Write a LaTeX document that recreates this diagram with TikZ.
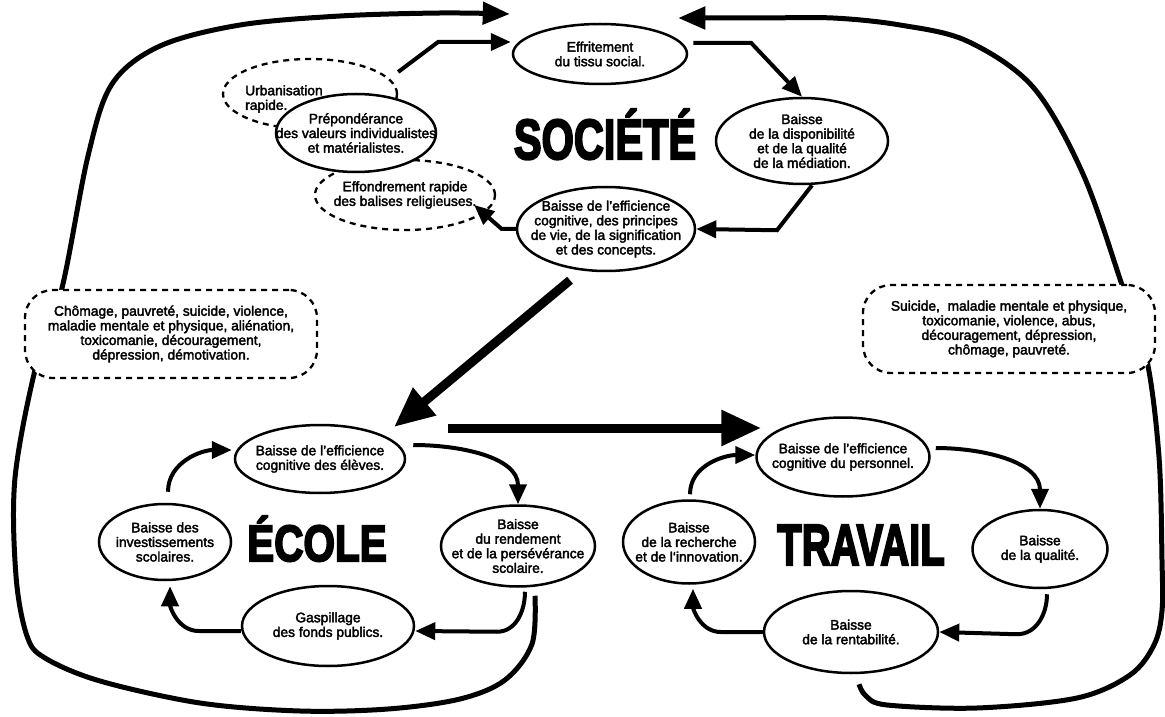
\documentclass[tikz,border=0pt]{standalone}
\usepackage{fontspec}
\usepackage{graphicx}
\setmainfont{Liberation Sans}
\newfontfamily\textefont{Liberation Sans}[FakeBold=2.5]
\newfontfamily\titrefont{Liberation Sans}[FakeBold=4]
\usetikzlibrary{shapes.geometric,arrows.meta,calc}
\newcommand{\corps}{\textefont\fontsize{13.8pt}{14.6pt}\selectfont}
\newcommand{\grandmot}[3]{\scalebox{#1}[#2]{\fontsize{10pt}{12pt}\titrefont\bfseries #3}}
\tikzset{
  bulle/.style={ellipse, draw, line width=2.5pt, fill=white, inner sep=0pt},
  tirets/.style={ellipse, draw, line width=2.3pt, dash pattern=on 6pt off 5pt, fill=white, inner sep=0pt},
  boite/.style={rectangle, rounded corners=28pt, draw, line width=2.3pt, dash pattern=on 6pt off 5pt,
    fill=white, minimum width=292pt, minimum height=88pt, align=center, font=\corps},
  txt/.style={align=center, font=\corps, inner sep=0pt},
  fleche/.style={line width=4pt, -{Triangle[length=20pt,width=17pt]}},
  boucle/.style={line width=5pt, -{Triangle[length=27pt,width=22pt]}},
  grosse/.style={line width=9pt, -{Triangle[length=40pt,width=34pt]}},
  titre/.style={inner sep=0pt, anchor=base}
}
\begin{document}
\begin{tikzpicture}[x=1pt,y=1pt]
   \useasboundingbox (0,0) rectangle (1165,716);
   % titres
   \node[titre] (soc) at (605,557) {\grandmot{4.15}{5.65}{SOCIÉTÉ}};
   \node[titre] (eco) at (317,155) {\grandmot{4.05}{5.1}{ÉCOLE}};
   \node[titre] (trav) at (861,151) {\grandmot{4.0}{5.8}{TRAVAIL}};
   % société
   \node[tirets, minimum width=174pt, minimum height=70pt] (urb) at (310,622) {};
   \node[txt, anchor=west, align=left] (urbt) at (245,617) {Urbanisation\\rapide.};
   \node[tirets, minimum width=180pt, minimum height=70pt,
     label={[txt]center:{Effondrement rapide\\des balises religieuses.}}] (effond) at (405,521) {};
   \node[bulle, minimum width=160pt, minimum height=78pt,
     label={[txt]center:{Prépondérance\\des valeurs individualistes\\et matérialistes.}}] (prep) at (356,583) {};
   \node[bulle, minimum width=174pt, minimum height=60pt,
     label={[txt]center:{Effritement\\du tissu social.}}] (eff) at (600,662) {};
   \node[bulle, minimum width=172pt, minimum height=86pt,
     label={[txt]center:{Baisse\\de la disponibilité\\et de la qualité\\de la médiation.}}] (dispo) at (802,575) {};
   \node[bulle, minimum width=178pt, minimum height=84pt,
     label={[txt]center:{Baisse de l’efficience\\cognitive, des principes\\de vie, de la signification\\et des concepts.}}] (effsoc) at (606,487) {};
   % école
   \node[bulle, minimum width=170pt, minimum height=68pt,
     label={[txt]center:{Baisse de l’efficience\\cognitive des élèves.}}] (eleves) at (320,257) {};
   \node[bulle, minimum width=154pt, minimum height=81pt,
     label={[txt]center:{Baisse\\du rendement\\et de la persévérance\\scolaire.}}] (rend) at (518,170) {};
   \node[bulle, minimum width=172pt, minimum height=80pt,
     label={[txt]center:{Gaspillage\\des fonds publics.}}] (gasp) at (328,90) {};
   \node[bulle, minimum width=132pt, minimum height=76pt,
     label={[txt]center:{Baisse des\\investissements\\scolaires.}}] (invest) at (165,174) {};
   % travail
   \node[bulle, minimum width=173pt, minimum height=79pt,
     label={[txt]center:{Baisse de l’efficience\\cognitive du personnel.}}] (pers) at (843,259) {};
   \node[bulle, minimum width=135pt, minimum height=78pt,
     label={[txt]center:{Baisse\\de la qualité.}}] (qual) at (1040,167) {};
   \node[bulle, minimum width=174pt, minimum height=82pt,
     label={[txt]center:{Baisse\\de la rentabilité.}}] (rent) at (851,84) {};
   \node[bulle, minimum width=132pt, minimum height=83pt,
     label={[txt]center:{Baisse\\de la recherche\\et de l‘innovation.}}] (rech) at (689,174) {};
   % flèches de la société
   \draw[fleche] ([yshift=22pt]urb.east) -- ++(40,30) -- ([xshift=-1pt,yshift=12pt]eff.west);
   \draw[fleche] ([xshift=5pt,yshift=11pt]eff.east) -- ++(58,0) -- (dispo.north);
   \draw[fleche] ([xshift=10pt]dispo.south) -- ++(-35,-45) -- (effsoc.east);
   \draw[fleche] (effsoc.west) -- ++(-14,0) -- ([xshift=-22pt,yshift=-10pt]effond.east);
   % grosses flèches
   \draw[grosse] ([xshift=-36pt,yshift=-8pt]effsoc.south) -- ($(eleves.center)+(74,32)$);
   \draw[grosse] ($(eleves.east)+(42,31)$) -- ($(pers.west)+(6,29)$);
   % cycle école
   \draw[fleche] ($(eleves.east)+(7,14)$) to[out=0,in=90] (rend.north);
   \draw[fleche] ($(rend.south)+(7,-4)$) to[out=-90,in=0] ++(-28,-40) -- ([yshift=-5pt]gasp.east);
   \draw[fleche] ([yshift=-5pt]gasp.west) -- ++(-42,0) to[out=180,in=-90] ($(invest.south)+(5,-5)$);
   \draw[fleche] ($(invest.north)+(3,11)$) to[out=90,in=180] ($(eleves.west)+(-2,9)$);
   % cycle travail
   \draw[fleche] ($(pers.east)+(5,9)$) to[out=0,in=90] (qual.north);
   \draw[fleche] ($(qual.south)+(7,-5)$) to[out=-90,in=0] ++(-30,-40) -- (rent.east);
   \draw[fleche] (rent.west) -- ++(-42,0) to[out=180,in=-90] ($(rech.south)+(4,-4)$);
   \draw[fleche] ($(rech.north)+(1,5)$) to[out=90,in=180] ($(pers.west)+(0,2)$);
   % grandes boucles vers la société
   \coordinate (dep1) at ($(rend.south)+(17,-8)$);
   \coordinate (arr1) at ($(eff.west)+(-2,40)$);
   \draw[boucle] plot[smooth, tension=0.55] coordinates {(dep1) (532,72) (505,36) (460,17) (388,7)
     (300,5) (200,13) (100,35) (45,58) (27,80) (16,140) (15,238) (36,350) (62,428) (88,560)
     (112,632) (160,670) (240,691) (340,700) (440,703) (arr1)};
   \coordinate (dep2) at ($(rent.south)+(8,-10)$);
   \coordinate (arr2) at ($(eff.east)+(-10,36)$);
   \draw[boucle] plot[smooth, tension=0.55] coordinates {(dep2) (866,20) (887,11) (977,8) (1077,18)
     (1130,41) (1154,71) (1162,105) (1162,156) (1159,259) (1147,355) (1123,428) (1083,542)
     (1033,629) (967,675) (900,691) (833,698) (760,698) (arr2)};
   % encadrés
   \node[boite] (chom) at (171,382) {Chômage, pauvreté, suicide, violence,\\maladie mentale et physique, aliénation,\\toxicomanie, découragement,\\dépression, démotivation.};
   \node[boite] (suic) at (1009,387) {Suicide,\ \ maladie mentale et physique,\\toxicomanie, violence, abus,\\découragement, dépression,\\chômage, pauvreté.};
\end{tikzpicture}
\end{document}
